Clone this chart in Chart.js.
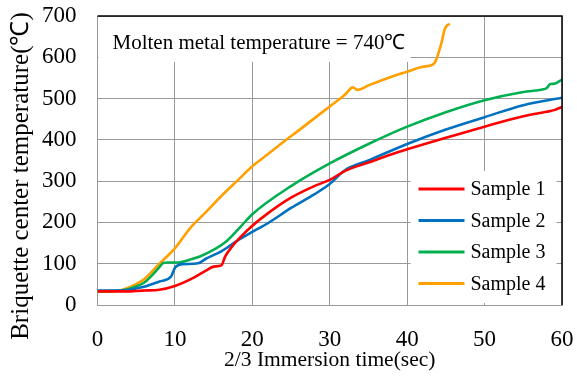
<!DOCTYPE html>
<html>
<head>
<meta charset="utf-8">
<script src="https://cdn.jsdelivr.net/npm/chart.js@4.4.1/dist/chart.umd.min.js"></script>
<style>
  html, body { margin: 0; padding: 0; background: #fff; }
  #wrap { width: 577px; height: 381px; position: relative; }
</style>
</head>
<body>
<div id="wrap"><canvas id="chart"></canvas></div>
<script>
// datos (tiempo en s, temperatura en grados C)
const labels = ["Sample 1", "Sample 2", "Sample 3", "Sample 4"];
const colors = ["#ff0000", "#0070c0", "#00b050", "#ffa000"];

const s1Time = [0, 2, 4, 5, 6, 8, 10, 12, 14, 15, 16, 16.5, 17.4, 18.5, 20, 22, 25, 28, 30, 32, 35, 38, 40, 45, 50, 55, 58, 59, 60];
const s1Temp = [33, 33, 33, 34, 35, 37, 46, 62, 83, 93, 96, 118, 142, 165, 192, 222, 260, 288, 303, 325, 345, 365, 377, 405, 432, 457, 468, 472, 480];

const s2Time = [0, 3, 5, 6, 8, 9.5, 10, 10.5, 11, 13, 14, 16, 18, 20, 22, 25, 28, 30, 32, 35, 40, 45, 50, 55, 60];
const s2Temp = [35, 35, 40, 44, 57, 69, 90, 97, 99, 101, 112, 130, 155, 177, 198, 235, 268, 293, 327, 350, 390, 425, 455, 484, 502];

const s3Time = [0, 3, 5, 6, 7.3, 8, 8.5, 9, 10.5, 12, 13.3, 16.5, 18.5, 20, 25, 30, 35, 40, 45, 50, 55, 57.5, 58, 58.5, 59, 60];
const s3Temp = [33, 35, 45, 54, 77, 92, 102, 103, 103, 110, 118, 152, 190, 220, 288, 343, 390, 432, 467, 496, 516, 522, 525, 535, 536, 546];

const s4Time = [0, 2, 4, 6, 8, 9, 10, 12, 14, 16, 18, 20, 22, 24, 26, 28, 30, 32, 33, 33.6, 35, 38, 40, 42, 43.3, 43.7, 44.2, 44.5, 44.8, 45.1, 45.5];
const s4Temp = [33, 33, 42, 62, 100, 118, 137, 187, 225, 264, 300, 336, 365, 395, 423, 452, 481, 510, 527, 521, 532, 553, 565, 577, 582, 592, 620, 640, 665, 676, 681];

const xTicks = [0, 10, 20, 30, 40, 50, 60];
const yTicks = [0, 100, 200, 300, 400, 500, 600, 700];

const xTitle = "2/3 Immersion time(sec)";
const yTitle = "Briquette center temperature(\u2103)";
const note = "Molten metal temperature = 740\u2103";

const serif = "'Liberation Serif', 'Times New Roman', serif";

function pares(t, v) {
    return t.map((x, i) => ({ x: x, y: v[i] }));
}

const series = [pares(s1Time, s1Temp), pares(s2Time, s2Temp), pares(s3Time, s3Temp), pares(s4Time, s4Temp)];

const datasets = series.map((d, i) => ({
    label: labels[i],
    data: d,
    borderColor: colors[i],
    backgroundColor: colors[i],
    borderWidth: 2.6,
    pointRadius: 0,
    cubicInterpolationMode: 'monotone',
    fill: false
}));

// cajas blancas (nota y leyenda) debajo de las curvas
const cajas = {
    id: 'cajas',
    beforeDatasetsDraw(chart) {
        const c = chart.ctx;
        const a = chart.chartArea;
        c.save();
        c.fillStyle = '#fff';
        // nota de temperatura
        c.fillRect(a.left + 1, a.top + 1, 312, 45);
        c.fillStyle = '#000';
        c.font = "21px " + serif;
        c.textBaseline = 'middle';
        c.textAlign = 'left';
        c.fillText(note, a.left + 15, a.top + 27);

        // leyenda
        const lx = a.left + 313, ly = a.top + 155;
        c.fillStyle = '#fff';
        c.fillRect(lx, ly, 146, a.bottom - ly - 2);
        c.font = "20px " + serif;
        labels.forEach((lab, i) => {
            const y = ly + 18 + i * 31.5;
            c.strokeStyle = colors[i];
            c.lineWidth = 3;
            c.beginPath();
            c.moveTo(lx + 8, y);
            c.lineTo(lx + 54, y);
            c.stroke();
            c.fillStyle = '#000';
            c.fillText(lab, lx + 60, y + 1);
        });
        c.restore();
    },
    afterDraw(chart) {
        const c = chart.ctx;
        const a = chart.chartArea;
        c.save();
        c.strokeStyle = '#000';
        c.lineWidth = 1.5;
        c.beginPath();
        c.moveTo(a.left, a.top);
        c.lineTo(a.right, a.top);
        c.lineTo(a.right, a.bottom);
        c.stroke();

        // titulo del eje Y (girado)
        c.translate(21, 176);
        c.rotate(-Math.PI / 2);
        c.fillStyle = '#000';
        c.font = "25px " + serif;
        c.textAlign = 'center';
        c.textBaseline = 'middle';
        c.fillText(yTitle, 0, 0);
        c.restore();
    }
};

const ctx = document.getElementById("chart").getContext('2d');

const myChart = new Chart(ctx, {
    type: 'line',
    data: { datasets: datasets },
    options: {
        responsive: true,
        maintainAspectRatio: false,
        animation: false,
        layout: { padding: { top: 16, right: 15, left: 0, bottom: 0 } },
        plugins: {
            legend: { display: false },
            tooltip: { enabled: false }
        },
        scales: {
            x: {
                type: 'linear',
                min: 0,
                max: 60,
                afterBuildTicks: (s) => { s.ticks = xTicks.map(v => ({ value: v })); },
                afterFit: (s) => { s.height = 76; s.paddingLeft = 0; s.paddingRight = 0; },
                grid: { color: '#999', lineWidth: 1, drawTicks: false },
                border: { color: '#999', width: 1 },
                ticks: { color: '#000', padding: 21, maxRotation: 0, font: { family: serif, size: 23 } },
                title: {
                    display: true,
                    text: xTitle,
                    color: '#000',
                    padding: { top: 0, bottom: 8 },
                    font: { family: serif, size: 21.5 }
                }
            },
            y: {
                min: 0,
                max: 700,
                afterBuildTicks: (s) => { s.ticks = yTicks.map(v => ({ value: v })); },
                afterFit: (s) => { s.width = 97.5; s.paddingTop = 0; s.paddingBottom = 0; },
                grid: { color: '#999', lineWidth: 1, drawTicks: false },
                border: { color: '#999', width: 1 },
                ticks: { color: '#000', padding: 21, font: { family: serif, size: 23 } },
                title: { display: false }
            }
        }
    },
    plugins: [cajas]
});
</script>
</body>
</html>
